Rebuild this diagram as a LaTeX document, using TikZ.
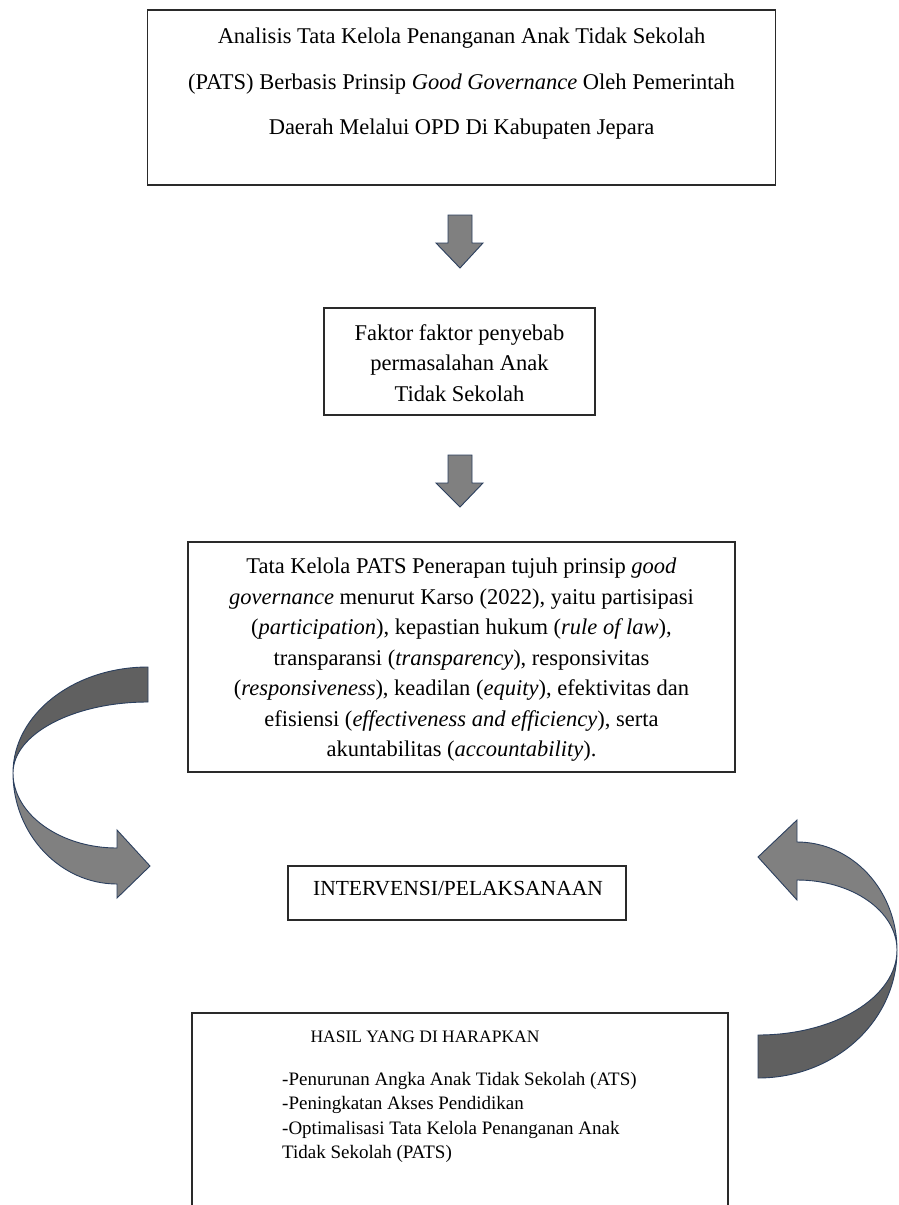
\documentclass[tikz,border=0pt]{standalone}
\usepackage{fontspec}
\setmainfont{Liberation Serif}
\definecolor{navy}{HTML}{2B3F5E}
\definecolor{agray}{HTML}{808080}
\definecolor{dgray}{HTML}{606060}
\definecolor{bordc}{HTML}{2A2A2A}
\begin{document}
\begin{tikzpicture}[x=1pt,y=-1pt,
  box/.style={draw=bordc, line width=1.4pt, inner sep=0pt},
  txt/.style={inner sep=0pt, align=center},
  blk/.style={draw=navy, line width=0.9pt, fill=agray, line join=miter},
  blkd/.style={draw=navy, line width=0.9pt, fill=dgray},
]
\useasboundingbox[fill=white] (0,0) rectangle (899,1205);

% box 1
\node[box, minimum width=628pt, minimum height=175pt] (b1) at (461.5,97.5) {};
\node[txt, font=\fontsize{22.5}{45.5}\selectfont] (t1) at (461.5,84)
  {Analisis Tata Kelola Penanganan Anak Tidak Sekolah\\
   (PATS) Berbasis Prinsip \textit{Good Governance} Oleh Pemerintah\\
   Daerah Melalui OPD Di Kabupaten Jepara};

% arrow 1
\filldraw[blk] (448,215) -- (472,215) -- (472,243) -- (483,243) -- (460,268) -- (436,243) -- (448,243) -- cycle;

% box 2
\node[box, minimum width=271pt, minimum height=107pt] (b2) at (459.5,361.5) {};
\node[txt, font=\fontsize{22.5}{30.5}\selectfont] (t2) at (459.5,363)
  {Faktor faktor penyebab\\ permasalahan Anak\\ Tidak Sekolah};

% arrow 2
\filldraw[blk] (448,455) -- (472,455) -- (472,483) -- (483,483) -- (460,507) -- (436,483) -- (448,483) -- cycle;

% box 3
\node[box, minimum width=547pt, minimum height=230pt] (b3) at (461.5,657) {};
\node[txt, font=\fontsize{22.5}{30.5}\selectfont] (t3) at (461.5,660)
  {Tata Kelola PATS Penerapan tujuh prinsip \textit{good}\\
   \textit{governance} menurut Karso (2022), yaitu partisipasi\\
   (\textit{participation}), kepastian hukum (\textit{rule of law}),\\
   transparansi (\textit{transparency}), responsivitas\\
   (\textit{responsiveness}), keadilan (\textit{equity}), efektivitas dan\\
   efisiensi (\textit{effectiveness and efficiency}), serta\\
   akuntabilitas (\textit{accountability}).};

% box 4
\node[box, minimum width=338pt, minimum height=54pt] (b4) at (457,893) {};
\node[txt, font=\fontsize{21.5}{26}\selectfont] (t4) at (458,889) {INTERVENSI/PELAKSANAAN};

% box 5 (continues below the page)
\coordinate (b5bl) at (192,1210);
\coordinate (b5br) at (728,1210);
\draw[draw=bordc, line width=1.4pt] (b5bl) |- (728,1013) -- (b5br);
\node[txt, font=\fontsize{17.5}{24}\selectfont] (t5) at (425,1037) {HASIL YANG DI HARAPKAN};
\node[txt, anchor=north west, align=left, font=\fontsize{19}{24.5}\selectfont] (t6) at (282,1072)
  {-Penurunan Angka Anak Tidak Sekolah (ATS)\\
   -Peningkatan Akses Pendidikan\\
   -Optimalisasi Tata Kelola Penanganan Anak\\
   Tidak Sekolah (PATS)};

% left curved arrow
\filldraw[blkd] (148,667) .. controls (73.5,667) and (13,714.5) .. (13,773)
  .. controls (13,734) and (73.5,702) .. (148,702) -- cycle;
\filldraw[blk] (13,773) .. controls (13,834) and (60,884) .. (117,884)
  -- (117,898) -- (150,866) -- (117,830) -- (117,848)
  .. controls (60,848) and (13,814) .. (13,773) -- cycle;

% right curved arrow
\filldraw[blkd] (897,950) .. controls (897,1021) and (835,1078) .. (758,1078)
  -- (758,1035) .. controls (835,1035) and (897,997) .. (897,950) -- cycle;
\filldraw[blk] (897,950) .. controls (897,890) and (852,842) .. (797,842)
  -- (797,820) -- (758,857) -- (797,900) -- (797,880)
  .. controls (852,880) and (897,911) .. (897,950) -- cycle;
\end{tikzpicture}
\end{document}
